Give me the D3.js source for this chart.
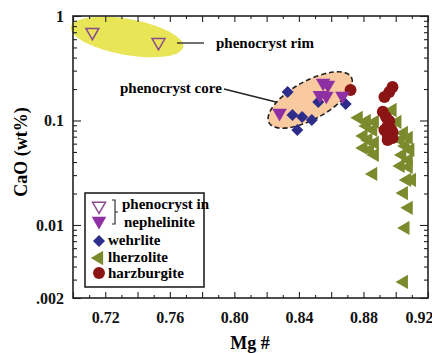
<!DOCTYPE html>
<html>
<head>
<meta charset="utf-8">
<script src="https://cdn.jsdelivr.net/npm/d3@7"></script>
<style>
  body { margin: 0; background: #fff; }
</style>
</head>
<body>
<svg id="viz" width="432" height="353"></svg>
<script>
// phenocryst in nephelinite, rim (open triangles)
const rimX = [0.712, 0.753]
const rimY = [0.70, 0.56]
// phenocryst in nephelinite, core (filled triangles)
const coreX = [0.855, 0.858, 0.857, 0.853, 0.867, 0.828]
const coreY = [0.229, 0.219, 0.172, 0.175, 0.172, 0.118]
// wehrlite
const wehX = [0.833, 0.852, 0.836, 0.842, 0.848, 0.839, 0.869]
const wehY = [0.187, 0.150, 0.113, 0.108, 0.101, 0.0811, 0.144]
// lherzolite
const lhzX = [0.877, 0.882, 0.887, 0.882, 0.886, 0.880, 0.883, 0.887, 0.880, 0.884, 0.887, 0.886,
              0.898, 0.901, 0.905, 0.908, 0.903, 0.906, 0.909, 0.904, 0.908, 0.903, 0.908, 0.907,
              0.910, 0.905, 0.908, 0.906, 0.905]
const lhzY = [0.106, 0.0989, 0.0968, 0.0886, 0.0811, 0.0711, 0.0651, 0.0609, 0.0546, 0.0522, 0.0468, 0.0308,
              0.126, 0.0968, 0.0759, 0.068, 0.0651, 0.057, 0.0522, 0.0468, 0.0419, 0.0367, 0.0359, 0.027,
              0.027, 0.0202, 0.0146, 0.00936, 0.00285]
// harzburgite
const hzbX = [0.872, 0.898, 0.896, 0.893, 0.892, 0.894, 0.896, 0.895, 0.897, 0.898, 0.895, 0.895, 0.898, 0.893]
const hzbY = [0.196, 0.209, 0.187, 0.168, 0.121, 0.108, 0.099, 0.0886, 0.0829, 0.0776, 0.0727, 0.0651, 0.068, 0.0811]

const xLabelVals = [0.72, 0.76, 0.80, 0.84, 0.88, 0.92]
const xMajorVals = [0.70, 0.72, 0.74, 0.76, 0.78, 0.80, 0.82, 0.84, 0.86, 0.88, 0.90, 0.92]
const yLabelVals = [1, 0.1, 0.01, 0.002]
const yLabels = ["1", "0.1", "0.01", ".002"]

const legendItems = ["phenocryst in", "nephelinite", "wehrlite", "lherzolite", "harzburgite"]

const col_open = '#8a4a8e'
const col_core = '#8e2fa3'
const col_weh = '#2d2d8c'
const col_lhz = '#7b8a2c'
const col_hzb = '#8b1414'
const serif = '"Liberation Serif", "Times New Roman", "DejaVu Serif", serif'

let svg = d3.select("#viz");
const mLeft = 73, mRight = 428, mTop = 16, mBottom = 298;

let x = d3.scaleLinear().domain([0.70, 0.92]).range([mLeft, mRight]);
let y = d3.scaleLog().domain([0.002, 1]).range([mBottom, mTop]);

// annotation ellipses
let rimC = [x(0.7335), y(0.63)];
svg.append("ellipse")
    .attr("cx", 0).attr("cy", 0).attr("rx", 57).attr("ry", 18)
    .attr("transform", `translate(${rimC[0]},${rimC[1]}) rotate(10)`)
    .style("fill", "#e8e556");

let coreC = [x(0.847), y(0.157)];
svg.append("ellipse")
    .attr("cx", 0).attr("cy", 0).attr("rx", 47).attr("ry", 19)
    .attr("transform", `translate(${coreC[0]},${coreC[1]}) rotate(-29)`)
    .style("fill", "#f9c9a0")
    .style("stroke", "#222")
    .style("stroke-width", 1.6)
    .style("stroke-dasharray", "5,3");

// leader lines + labels
svg.append("line").attr("x1", 177).attr("y1", 43).attr("x2", 204).attr("y2", 43)
    .style("stroke", "#222").style("stroke-width", 1.3);
svg.append("text").attr("x", 216).attr("y", 48).attr("font-size", 15).text("phenocryst rim");
svg.append("line").attr("x1", 224).attr("y1", 89).attr("x2", 276).attr("y2", 102)
    .style("stroke", "#222").style("stroke-width", 1.3);
svg.append("text").attr("x", 120).attr("y", 93).attr("font-size", 15).text("phenocryst core");

// axes
function addAxis(axis, tx, ty) {
    let g = svg.append("g").attr("transform", `translate(${tx},${ty})`).call(axis);
    g.select(".domain").remove();
    g.selectAll(".tick line").style("stroke", "#222").style("stroke-width", 1.1);
    g.selectAll("text").attr("font-size", 16).style("fill", "#111");
    return g;
}
let xMinor = d3.range(0.71, 0.92, 0.02);
let yMinor = [];
[0.001, 0.01, 0.1].forEach(d => d3.range(2, 10).forEach(k => {
    let v = d * k;
    if (v > 0.0021 && v < 1) yMinor.push(v);
}));

addAxis(d3.axisBottom(x).tickValues(xMajorVals).tickSize(-6)
    .tickFormat(d => xLabelVals.some(v => Math.abs(v - d) < 1e-6) ? d3.format(".2f")(d) : "")
    .tickPadding(14), 0, mBottom)
    .selectAll("text").filter(d => Math.abs(d - 0.92) < 1e-6).attr("dx", -9);
addAxis(d3.axisBottom(x).tickValues(xMinor).tickSize(-3).tickFormat(""), 0, mBottom);
addAxis(d3.axisTop(x).tickValues(xMajorVals).tickSize(-6).tickFormat(""), 0, mTop);
addAxis(d3.axisTop(x).tickValues(xMinor).tickSize(-3).tickFormat(""), 0, mTop);

addAxis(d3.axisLeft(y).tickValues(yLabelVals).tickSize(-8).tickPadding(9)
    .tickFormat((d, i) => yLabels[i]), mLeft, 0);
addAxis(d3.axisLeft(y).tickValues(yMinor).tickSize(-4).tickFormat(""), mLeft, 0);
addAxis(d3.axisRight(y).tickValues(yLabelVals).tickSize(-8).tickFormat(""), mRight, 0);
addAxis(d3.axisRight(y).tickValues(yMinor).tickSize(-4).tickFormat(""), mRight, 0);

svg.append("rect")
    .attr("x", mLeft).attr("y", mTop).attr("width", mRight - mLeft).attr("height", mBottom - mTop)
    .style("fill", "none").style("stroke", "#222").style("stroke-width", 1.6);

svg.append("text").attr("x", 250).attr("y", 349).attr("text-anchor", "middle")
    .attr("font-size", 18).text("Mg #");
svg.append("text").attr("transform", "translate(27,152) rotate(-90)").attr("text-anchor", "middle")
    .attr("font-size", 18).text("CaO (wt%)");

// points
let triDown = d3.symbol().type(d3.symbolTriangle).size(72);
let triLhz = d3.symbol().type(d3.symbolTriangle).size(88);
let triBig = d3.symbol().type(d3.symbolTriangle).size(92);
let diamond = d3.symbol().type(d3.symbolSquare).size(72);
let circle = d3.symbol().type(d3.symbolCircle).size(112);

function plot(xs, ys, path, rot, fill, stroke) {
    svg.append("g").selectAll("path")
        .data(xs.map((d, i) => [d, ys[i]]))
        .join("path")
        .attr("d", path)
        .attr("transform", d => `translate(${x(d[0])},${y(d[1])}) rotate(${rot})`)
        .style("fill", fill)
        .style("stroke", stroke || "none")
        .style("stroke-width", 1.5);
}
plot(lhzX, lhzY, triLhz, -90, col_lhz);
plot(hzbX, hzbY, circle, 0, col_hzb);
plot(wehX, wehY, diamond, 45, col_weh);
plot(coreX, coreY, triBig, 180, col_core);
plot(rimX, rimY, triDown, 180, "none", col_open);

// legend
let lg = svg.append("g");
lg.append("rect").attr("x", 85).attr("y", 193).attr("width", 119).attr("height", 94)
    .style("fill", "#fff").style("stroke", "#222").style("stroke-width", 1.6);
let legY = [205, 220, 241, 258, 273];
let legSym = [
    [triDown, 180, "none", col_open],
    [triBig, 180, col_core, null],
    [diamond, 45, col_weh, null],
    [triLhz, -90, col_lhz, null],
    [circle, 0, col_hzb, null]
];
legSym.forEach((s, i) => {
    lg.append("path").attr("d", s[0])
        .attr("transform", `translate(99,${legY[i] + (i < 2 ? 1 : 0)}) rotate(${s[1]})`)
        .style("fill", s[2]).style("stroke", s[3] || "none").style("stroke-width", 1.5);
});
lg.append("path").attr("d", "M112,200 L115,200 L115,224 L112,224 M115,212 L118,212")
    .style("fill", "none").style("stroke", "#222").style("stroke-width", 1.1);
let legTx = [122, 124, 108, 108, 108];
let legTy = [209, 227, 245, 262, 278];
legendItems.forEach((t, i) => {
    lg.append("text").attr("x", legTx[i]).attr("y", legTy[i]).attr("font-size", 15).text(t);
});

svg.selectAll("text").style("font-family", serif).style("font-weight", "bold");
</script>
</body>
</html>
